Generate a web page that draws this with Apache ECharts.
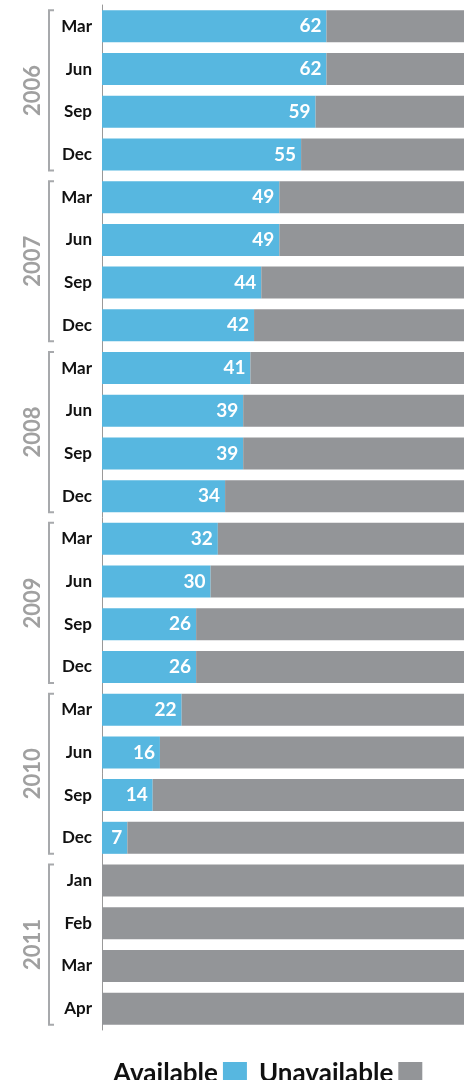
<!DOCTYPE html>
<html>
<head>
<meta charset="utf-8">
<script src="https://cdn.jsdelivr.net/npm/echarts@6/dist/echarts.min.js"></script>
<style>
  html, body { margin: 0; padding: 0; background: #fff; }
  #main { width: 466px; height: 1080px; }
</style>
</head>
<body>
<div id="main"></div>
<script>
var months = ['Mar', 'Jun', 'Sep', 'Dec', 'Mar', 'Jun', 'Sep', 'Dec', 'Mar', 'Jun', 'Sep', 'Dec',
  'Mar', 'Jun', 'Sep', 'Dec', 'Mar', 'Jun', 'Sep', 'Dec', 'Jan', 'Feb', 'Mar', 'Apr'];
var years = ['2006', '2007', '2008', '2009', '2010', '2011'];
var available = [62, 62, 59, 55, 49, 49, 44, 42, 41, 39, 39, 34, 32, 30, 26, 26, 22, 16, 14, 7, 0, 0, 0, 0];
var unavailable = [38, 38, 41, 45, 51, 51, 56, 58, 59, 61, 61, 66, 68, 70, 74, 74, 78, 84, 86, 93, 100, 100, 100, 100];

// categories need to be unique, keep the month as display label
var cats = months.map(function (m, i) { return i + '|' + m; });

var chartDom = document.getElementById('main');
var myChart = echarts.init(chartDom);
var font = 'Lato, "DejaVu Sans", sans-serif';

var option = {
  animation: false,
  grid: { left: 102, right: 2, top: 5, height: 1025 },
  xAxis: {
    type: 'value',
    min: 0,
    max: 100,
    show: false
  },
  yAxis: {
    type: 'category',
    data: cats,
    inverse: true,
    axisLine: { show: true, lineStyle: { color: '#999', width: 1 } },
    axisTick: { show: false },
    axisLabel: {
      formatter: function (v) { return v.split('|')[1]; },
      color: '#111',
      fontWeight: 'bold',
      fontSize: 17,
      fontFamily: font,
      margin: 10
    }
  },
  legend: {
    left: 108,
    top: 1056,
    align: 'right',
    itemWidth: 24,
    itemHeight: 24,
    itemGap: 12,
    icon: 'rect',
    textStyle: { fontSize: 26, fontWeight: 'bold', color: '#111', fontFamily: font },
    data: ['Available', 'Unavailable']
  },
  series: [
    {
      name: 'Available',
      type: 'bar',
      stack: 'total',
      barCategoryGap: '25%',
      data: available,
      itemStyle: { color: '#57b7e0' },
      label: {
        show: true,
        position: 'insideRight',
        color: '#fff',
        fontWeight: 'bold',
        fontSize: 19,
        fontFamily: font,
        formatter: function (p) { return p.value > 0 ? p.value : ''; }
      }
    },
    {
      name: 'Unavailable',
      type: 'bar',
      stack: 'total',
      data: unavailable,
      itemStyle: { color: '#939598' }
    }
  ]
};

myChart.setOption(option);

// year brackets on the left
var graphics = [];
years.forEach(function (y, g) {
  var first = myChart.convertToPixel({ yAxisIndex: 0 }, cats[g * 4]);
  var last = myChart.convertToPixel({ yAxisIndex: 0 }, cats[g * 4 + 3]);
  var top = first - 16;
  var bot = last + 16;
  graphics.push({
    type: 'polyline',
    shape: { points: [[54, top], [49, top], [49, bot], [54, bot]] },
    style: { stroke: '#a7a9ac', lineWidth: 2, fill: null }
  });
  graphics.push({
    type: 'text',
    x: 33,
    y: (top + bot) / 2,
    rotation: Math.PI / 2,
    style: {
      text: y,
      fill: '#a0a0a0',
      font: 'bold 22px ' + font,
      align: 'center',
      verticalAlign: 'middle'
    }
  });
});
myChart.setOption({ graphic: graphics });
</script>
</body>
</html>
